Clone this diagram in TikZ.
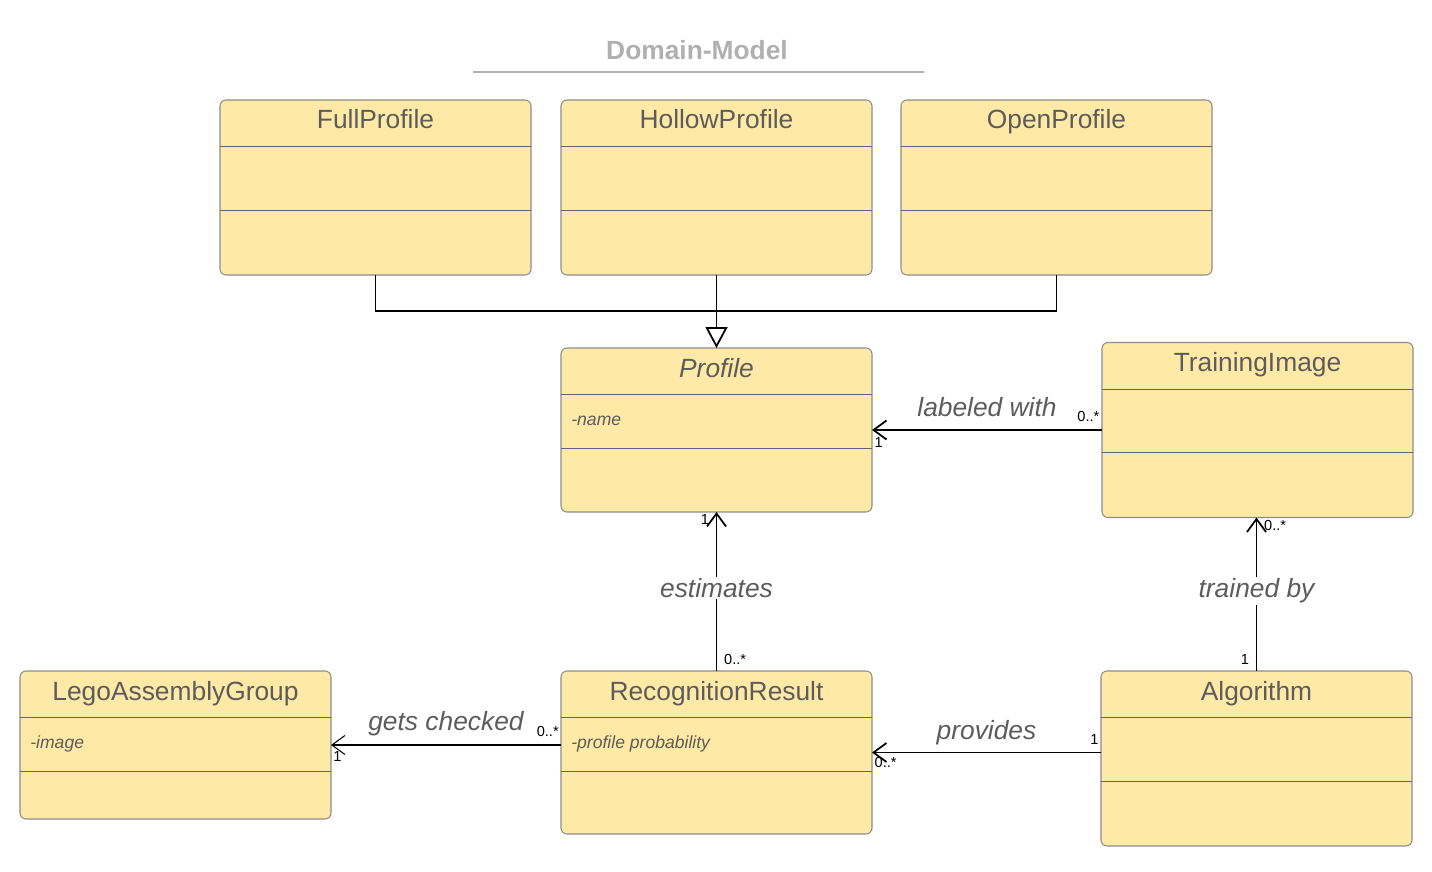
\documentclass[tikz,border=0pt]{standalone}
\usepackage{fontspec}
\setmainfont{Liberation Sans}
\usepackage{tikz}
\usetikzlibrary{arrows.meta,positioning,calc}

\definecolor{classfill}{HTML}{FFE9A6}
\definecolor{classline}{HTML}{8C8C8C}
\definecolor{sepline}{HTML}{5F6673}
\definecolor{textgray}{HTML}{5C5C5C}
\definecolor{titlegray}{HTML}{B0B0B0}

\begin{document}
\begin{tikzpicture}[
    >={Straight Barb[length=0.26cm,width=0.38cm]},
    every node/.style={font=\fontsize{15pt}{18pt}\selectfont, text=textgray},
    class/.style={rectangle, rounded corners=0.12cm, draw=classline, fill=classfill, minimum width=6.22cm, inner sep=0pt, outer sep=0pt, line width=0.6pt},
    cname/.style={anchor=base},
    attr/.style={anchor=base west, inner sep=0pt, font=\fontsize{10pt}{12pt}\selectfont\itshape},
    sep/.style={draw=sepline, line width=0.5pt},
    assoc/.style={draw=black, line width=1pt},
    rel/.style={font=\fontsize{15pt}{18pt}\selectfont\itshape},
    mult/.style={font=\fontsize{8.3pt}{10pt}\selectfont, text=black, inner sep=1pt}
]
    \useasboundingbox (0,0) rectangle (28.64,-17.44);

    % Title
    \node[font=\fontsize{15pt}{18pt}\selectfont\bfseries, text=titlegray] (title) at (13.94,-1.0) {Domain-Model};
    \draw[titlegray, line width=1pt] (9.46,-1.44) -- (18.48,-1.44);

    % Profile kinds
    \node[class, minimum height=3.5cm] (full) at (7.51,-3.75) {};
    \node[class, minimum height=3.5cm, right=0.6cm of full] (hollow) {};
    \node[class, minimum height=3.5cm, right=0.58cm of hollow] (open) {};

    % Profile and training images
    \node[class, minimum height=3.28cm, below=1.46cm of hollow] (profile) {};
    \node[class, minimum height=3.5cm, right=4.6cm of profile] (train) {};

    % Bottom row
    \node[class, minimum height=3.26cm, below=3.18cm of profile] (recog) {};
    \node[class, minimum height=2.96cm, anchor=north east] (lego) at ([xshift=-4.6cm]recog.north west) {};
    \node[class, minimum height=3.5cm, anchor=north west] (algo) at ([xshift=4.58cm]recog.north east) {};

    % Compartments
    \draw[sep] ([yshift=-0.93cm]full.north west) -- ([yshift=-0.93cm]full.north east);
    \draw[sep] ([yshift=-2.2cm]full.north west) -- ([yshift=-2.2cm]full.north east);
    \draw[sep] ([yshift=-0.93cm]hollow.north west) -- ([yshift=-0.93cm]hollow.north east);
    \draw[sep] ([yshift=-2.2cm]hollow.north west) -- ([yshift=-2.2cm]hollow.north east);
    \draw[sep] ([yshift=-0.93cm]open.north west) -- ([yshift=-0.93cm]open.north east);
    \draw[sep] ([yshift=-2.2cm]open.north west) -- ([yshift=-2.2cm]open.north east);
    \draw[sep] ([yshift=-0.93cm]profile.north west) -- ([yshift=-0.93cm]profile.north east);
    \draw[sep] ([yshift=-2.0cm]profile.north west) -- ([yshift=-2.0cm]profile.north east);
    \draw[sep] ([yshift=-0.93cm]train.north west) -- ([yshift=-0.93cm]train.north east);
    \draw[sep] ([yshift=-2.2cm]train.north west) -- ([yshift=-2.2cm]train.north east);
    \draw[sep] ([yshift=-0.93cm]lego.north west) -- ([yshift=-0.93cm]lego.north east);
    \draw[sep] ([yshift=-2.0cm]lego.north west) -- ([yshift=-2.0cm]lego.north east);
    \draw[sep] ([yshift=-0.93cm]recog.north west) -- ([yshift=-0.93cm]recog.north east);
    \draw[sep] ([yshift=-2.0cm]recog.north west) -- ([yshift=-2.0cm]recog.north east);
    \draw[sep] ([yshift=-0.93cm]algo.north west) -- ([yshift=-0.93cm]algo.north east);
    \draw[sep] ([yshift=-2.2cm]algo.north west) -- ([yshift=-2.2cm]algo.north east);

    % Class names
    \node[cname] (full-n) at ([yshift=-0.58cm]full.north) {FullProfile};
    \node[cname] (hollow-n) at ([yshift=-0.58cm]hollow.north) {HollowProfile};
    \node[cname] (open-n) at ([yshift=-0.58cm]open.north) {OpenProfile};
    \node[cname] (profile-n) at ([yshift=-0.58cm]profile.north) {\itshape Profile};
    \node[cname] (train-n) at ([yshift=-0.58cm]train.north) {TrainingImage};
    \node[cname] (lego-n) at ([yshift=-0.58cm]lego.north) {LegoAssemblyGroup};
    \node[cname] (recog-n) at ([yshift=-0.58cm]recog.north) {RecognitionResult};
    \node[cname] (algo-n) at ([yshift=-0.58cm]algo.north) {Algorithm};

    % Attributes
    \node[attr] (profile-a) at ([xshift=0.2cm, yshift=-1.54cm]profile.north west) {-name};
    \node[attr] (lego-a) at ([xshift=0.2cm, yshift=-1.54cm]lego.north west) {-image};
    \node[attr] (recog-a) at ([xshift=0.2cm, yshift=-1.54cm]recog.north west) {-profile probability};

    % Generalization
    \draw[assoc] (full.south) -- ++(0,-0.72) -| (open.south);
    \draw[line width=0.6pt, -{Triangle[open, length=0.42cm, width=0.44cm, line width=1pt]}] (hollow.south) -- (profile.north);

    % Associations
    \draw[assoc, ->] (train.west) -- (train.west -| profile.east)
        node[pos=0.5, rel, anchor=base, yshift=0.28cm] (lw) {labeled with}
        node[pos=0, mult, anchor=south east, yshift=0.12cm] (lw-m1) {0..*}
        node[pos=1, mult, anchor=north west, yshift=-0.1cm] (lw-m2) {1};
    \draw[assoc, ->] (recog.north) -- (profile.south)
        node[pos=0.5, rel, fill=white, inner sep=1pt, yshift=0.07cm] (est) {estimates}
        node[pos=0, mult, anchor=south west, xshift=0.1cm, yshift=0.08cm] (est-m1) {0..*}
        node[pos=1, mult, anchor=north east, xshift=-0.1cm] (est-m2) {1};
    \draw[assoc, ->] (algo.north) -- (algo.north |- train.south)
        node[pos=0.5, rel, fill=white, inner sep=1pt, yshift=0.07cm] (tb) {trained by}
        node[pos=0, mult, anchor=south east, xshift=-0.1cm, yshift=0.08cm] (tb-m1) {1}
        node[pos=1, mult, anchor=north west, xshift=0.1cm] (tb-m2) {0..*};
    \draw[assoc, ->] (recog.east -| algo.west) -- (recog.east)
        node[pos=0.5, rel, anchor=base, yshift=0.26cm] (pv) {provides}
        node[pos=0, mult, anchor=south east, yshift=0.1cm] (pv-m1) {1}
        node[pos=1, mult, anchor=north west, yshift=-0.04cm] (pv-m2) {0..*};
    \draw[line width=0.6pt, ->] (lego.east -| recog.west) -- (lego.east)
        node[pos=0.5, rel, anchor=base, yshift=0.3cm] (gc) {gets checked}
        node[pos=0, mult, anchor=south east, yshift=0.12cm] (gc-m1) {0..*}
        node[pos=1, mult, anchor=north west, yshift=-0.08cm] (gc-m2) {1};
\end{tikzpicture}
\end{document}
